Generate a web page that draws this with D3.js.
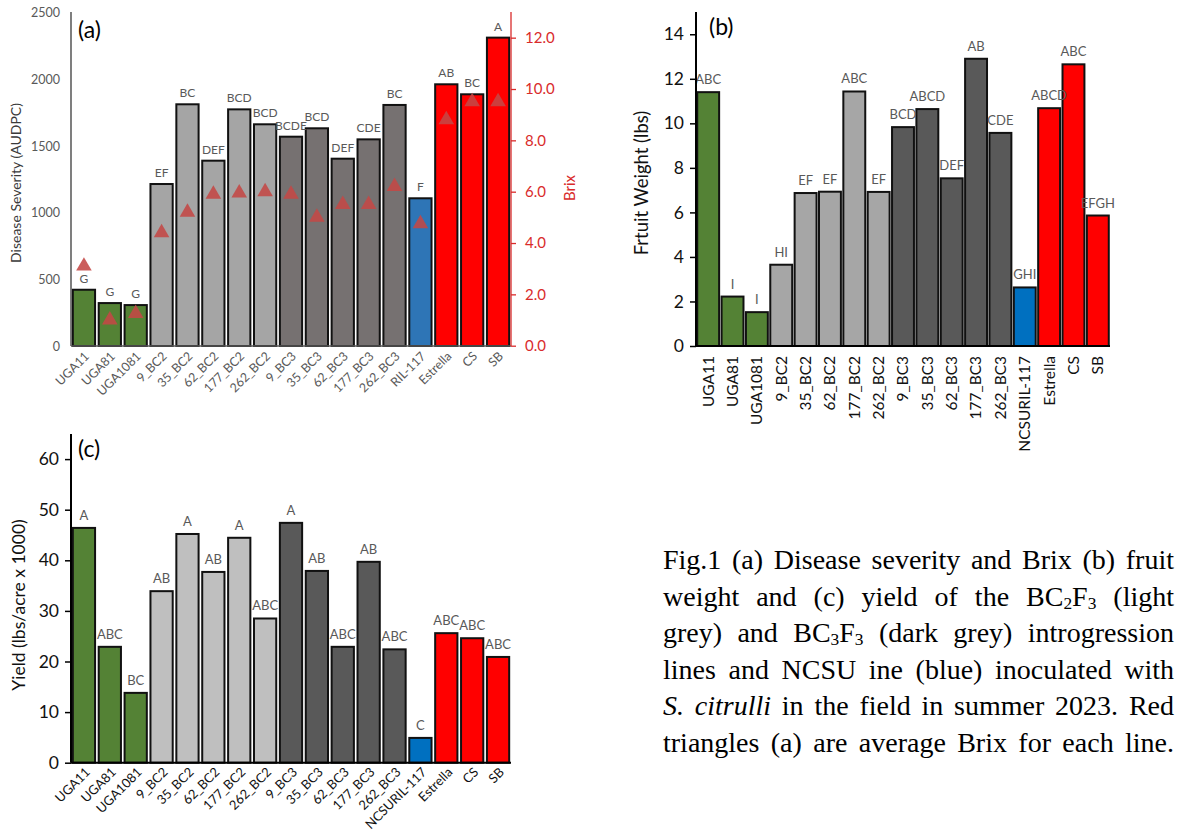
<!DOCTYPE html>
<html>
<head>
<meta charset="utf-8">
<script src="https://cdn.jsdelivr.net/npm/d3@7"></script>
<style>
  body { margin: 0; background: #fff; }
  #wrap { position: relative; width: 1198px; height: 837px; }
  svg { position: absolute; left: 0; top: 0; font-family: Lato, "Open Sans", sans-serif; }
  #caption {
    position: absolute; left: 663px; top: 542px; width: 511px;
    font-family: "Liberation Serif", "Times New Roman", serif;
    font-size: 28px; line-height: 36.6px; color: #000;
  }
  #caption div { text-align: justify; text-align-last: justify; white-space: nowrap; }
  #caption sub { font-size: 0.62em; vertical-align: -0.2em; line-height: 0; }
</style>
</head>
<body>
<div id="wrap">
<svg id="chart" width="1198" height="837"></svg>
<div id="caption">
  <div>Fig.1 (a) Disease severity and Brix (b) fruit</div>
  <div>weight and (c) yield of the BC<sub>2</sub>F<sub>3</sub> (light</div>
  <div>grey) and BC<sub>3</sub>F<sub>3</sub> (dark grey) introgression</div>
  <div>lines and NCSU ine (blue) inoculated with</div>
  <div><i>S. citrulli</i> in the field in summer 2023. Red</div>
  <div>triangles (a) are average Brix for each line.</div>
</div>
</div>
<script>
// ── Data ───────────────────────────────────────────────────────────────────
const catsA = ['UGA11','UGA81','UGA1081','9_BC2','35_BC2','62_BC2','177_BC2','262_BC2',
  '9_BC3','35_BC3','62_BC3','177_BC3','262_BC3','RIL-117','Estrella','CS','SB'];
const catsBC = ['UGA11','UGA81','UGA1081','9_BC2','35_BC2','62_BC2','177_BC2','262_BC2',
  '9_BC3','35_BC3','62_BC3','177_BC3','262_BC3','NCSURIL-117','Estrella','CS','SB'];
const groups = ['uga','uga','uga','bc2','bc2','bc2','bc2','bc2',
  'bc3','bc3','bc3','bc3','bc3','ncsu','check','check','check'];

const audpc = [422, 322, 307, 1215, 1813, 1390, 1775, 1663, 1570, 1633, 1405, 1550, 1808, 1108, 1963, 1888, 2313];
const brix = [3.1, 1.0, 1.25, 4.4, 5.2, 5.9, 5.95, 6.0, 5.9, 5.0, 5.5, 5.5, 6.2, 4.75, 8.8, 9.5, 9.5];
const lettersA = ['G','G','G','EF','BC','DEF','BCD','BCD','BCDE','BCD','DEF','CDE','BC','F','AB','BC','A'];

const fruitWeight = [11.4, 2.22, 1.52, 3.65, 6.87, 6.93, 11.43, 6.92, 9.83, 10.64, 7.53, 12.9, 9.57, 2.63, 10.68, 12.65, 5.86];
const lettersB = ['ABC','I','I','HI','EF','EF','ABC','EF','BCD','ABCD','DEF','AB','CDE','GHI','ABCD','ABC','EFGH'];

const yieldK = [46.4, 22.9, 13.8, 33.9, 45.2, 37.7, 44.45, 28.5, 47.4, 37.9, 22.9, 39.7, 22.4, 4.9, 25.6, 24.6, 20.9];
const lettersC = ['A','ABC','BC','AB','A','AB','A','ABC','A','AB','ABC','AB','ABC','C','ABC','ABC','ABC'];

const ticksA = [0, 500, 1000, 1500, 2000, 2500];
const ticksBrix = [0, 2, 4, 6, 8, 10, 12];
const ticksB = [0, 2, 4, 6, 8, 10, 12, 14];
const ticksC = [0, 10, 20, 30, 40, 50, 60];

const colA = { uga: '#548235', bc2: '#a5a5a5', bc3: '#767171', ncsu: '#2e75b6', check: '#ff0000' };
const colB = { uga: '#548235', bc2: '#a6a6a6', bc3: '#595959', ncsu: '#0070c0', check: '#ff0000' };
const colC = { uga: '#548235', bc2: '#bfbfbf', bc3: '#595959', ncsu: '#0070c0', check: '#ff0000' };

const svg = d3.select('#chart');
svg.append('rect').attr('width', 1198).attr('height', 837).attr('fill', '#fff');

// ── Generic bar panel ──────────────────────────────────────────────────────
function barPanel(opt) {
  const g = svg.append('g');
  const x = d3.scaleBand().domain(opt.cats).range([opt.x0, opt.x1]).paddingInner(opt.pad).paddingOuter(opt.pad / 2);
  const y = d3.scaleLinear().domain([0, opt.max]).range([opt.yBase, opt.yTop]);

  g.selectAll('.bar')
    .data(opt.values)
    .enter().append('rect')
    .attr('x', (d, i) => x(opt.cats[i]))
    .attr('y', d => y(d))
    .attr('width', x.bandwidth())
    .attr('height', d => y(0) - y(d))
    .attr('fill', (d, i) => opt.colors[groups[i]])
    .attr('stroke', '#111')
    .attr('stroke-width', 2);

  g.selectAll('.lbl')
    .data(opt.values)
    .enter().append('text')
    .attr('x', (d, i) => x(opt.cats[i]) + x.bandwidth() / 2)
    .attr('y', d => y(d) - opt.lblGap)
    .attr('text-anchor', 'middle')
    .attr('font-size', opt.lblSize)
    .attr('fill', '#595959')
    .text((d, i) => opt.letters[i]);

  return { g, x, y };
}

// ── (a) Disease severity + Brix ────────────────────────────────────────────
(function () {
  const p = barPanel({
    cats: catsA, values: audpc, letters: lettersA, colors: colA,
    x0: 71, x1: 511, yBase: 346, yTop: 12.7, max: 2500, pad: 0.14, lblGap: 7, lblSize: 12
  });
  const yAxis = d3.axisLeft(p.y).tickValues(ticksA).tickFormat(d3.format('d')).tickSize(0).tickPadding(11);
  const ga = p.g.append('g').attr('transform', 'translate(71,0)').call(yAxis);
  ga.select('.domain').attr('stroke', '#3a3a3a').attr('stroke-width', 1.3).attr('d', 'M0,12V346');
  ga.selectAll('text').attr('font-size', 12.5).attr('fill', '#595959').attr('font-family', 'Lato');

  p.g.append('line').attr('x1', 71).attr('x2', 511).attr('y1', 346).attr('y2', 346)
    .attr('stroke', '#595959').attr('stroke-width', 1.3);

  const yb = d3.scaleLinear().domain([0, 13]).range([345.7, 12]);
  const red = '#d92b2b';
  const rAxis = d3.axisRight(yb).tickValues(ticksBrix).tickFormat(d3.format('.1f')).tickSize(5).tickPadding(9);
  const gr = p.g.append('g').attr('transform', 'translate(511,0)').call(rAxis);
  gr.select('.domain').attr('stroke', red).attr('stroke-width', 1.3).attr('d', 'M0,12V346');
  gr.selectAll('.tick line').attr('stroke', red).attr('stroke-width', 1.3);
  gr.selectAll('text').attr('font-size', 15).attr('fill', red).attr('font-family', 'Lato');

  // Brix triangles
  p.g.selectAll('.tri')
    .data(brix)
    .enter().append('path')
    .attr('d', d3.symbol().type(d3.symbolTriangle).size(105))
    .attr('transform', (d, i) => `translate(${p.x(catsA[i]) + p.x.bandwidth() / 2},${yb(d)})`)
    .attr('fill', 'rgb(196,72,70)')
    .attr('fill-opacity', 0.88);

  // x labels
  p.g.selectAll('.xl')
    .data(catsA)
    .enter().append('text')
    .attr('transform', d => `translate(${p.x(d) + p.x.bandwidth() / 2 + 6},357) rotate(-45)`)
    .attr('text-anchor', 'end')
    .attr('font-size', 12.5)
    .attr('fill', '#595959')
    .text(d => d);

  p.g.append('text')
    .attr('transform', 'translate(21,183) rotate(-90)')
    .attr('text-anchor', 'middle')
    .attr('font-size', 14)
    .attr('fill', '#3a3a3a')
    .text('Disease Severity (AUDPC)');

  p.g.append('text')
    .attr('transform', 'translate(575,188) rotate(-90)')
    .attr('text-anchor', 'middle')
    .attr('font-size', 15)
    .attr('fill', red)
    .text('Brix');

  p.g.append('text').attr('x', 78).attr('y', 38).attr('font-size', 23).attr('fill', '#000').text('(a)');
})();

// ── (b) Fruit weight ───────────────────────────────────────────────────────
(function () {
  const p = barPanel({
    cats: catsBC, values: fruitWeight, letters: lettersB, colors: colB,
    x0: 696, x1: 1110, yBase: 346, yTop: 12, max: 15, pad: 0.1, lblGap: 8, lblSize: 13
  });
  const yAxis = d3.axisLeft(p.y).tickValues(ticksB).tickSize(6).tickPadding(6);
  const ga = p.g.append('g').attr('transform', 'translate(696,0)').call(yAxis);
  ga.select('.domain').attr('stroke', '#000').attr('stroke-width', 2).attr('d', 'M0,12V346');
  ga.selectAll('.tick line').attr('stroke', '#000').attr('stroke-width', 1.5);
  ga.selectAll('text').attr('font-size', 17.5).attr('fill', '#111').attr('font-family', 'Lato');

  p.g.append('line').attr('x1', 696).attr('x2', 1110).attr('y1', 346).attr('y2', 346)
    .attr('stroke', '#000').attr('stroke-width', 2);

  p.g.selectAll('.xl')
    .data(catsBC)
    .enter().append('text')
    .attr('transform', d => `translate(${p.x(d) + p.x.bandwidth() / 2},356) rotate(-90)`)
    .attr('dy', '0.35em')
    .attr('text-anchor', 'end')
    .attr('font-size', 15.5)
    .attr('fill', '#111')
    .text(d => d);

  p.g.append('text')
    .attr('transform', 'translate(648,183) rotate(-90)')
    .attr('text-anchor', 'middle')
    .attr('font-size', 18.5)
    .attr('fill', '#111')
    .text('Frtuit Weight (lbs)');

  p.g.append('text').attr('x', 709).attr('y', 35).attr('font-size', 23).attr('fill', '#000').text('(b)');
})();

// ── (c) Yield ──────────────────────────────────────────────────────────────
(function () {
  const p = barPanel({
    cats: catsBC, values: yieldK, letters: lettersC, colors: colC,
    x0: 71, x1: 511, yBase: 762.7, yTop: 433.8, max: 65, pad: 0.14, lblGap: 8, lblSize: 13
  });
  const yAxis = d3.axisLeft(p.y).tickValues(ticksC).tickSize(6).tickPadding(6);
  const ga = p.g.append('g').attr('transform', 'translate(71,0)').call(yAxis);
  ga.select('.domain').attr('stroke', '#000').attr('stroke-width', 2).attr('d', 'M0,434V762.7');
  ga.selectAll('.tick line').attr('stroke', '#000').attr('stroke-width', 1.5);
  ga.selectAll('text').attr('font-size', 17.5).attr('fill', '#111').attr('font-family', 'Lato');

  p.g.append('line').attr('x1', 71).attr('x2', 511).attr('y1', 762.7).attr('y2', 762.7)
    .attr('stroke', '#000').attr('stroke-width', 2);

  p.g.selectAll('.xl')
    .data(catsBC)
    .enter().append('text')
    .attr('transform', d => `translate(${p.x(d) + p.x.bandwidth() / 2 + 7},773) rotate(-45)`)
    .attr('text-anchor', 'end')
    .attr('font-size', 13)
    .attr('fill', '#111')
    .text(d => d);

  p.g.append('text')
    .attr('transform', 'translate(25,605) rotate(-90)')
    .attr('text-anchor', 'middle')
    .attr('font-size', 17.5)
    .attr('fill', '#111')
    .text('Yield (lbs/acre x 1000)');

  p.g.append('text').attr('x', 78).attr('y', 457).attr('font-size', 23).attr('fill', '#000').text('(c)');
})();
</script>
</body>
</html>
